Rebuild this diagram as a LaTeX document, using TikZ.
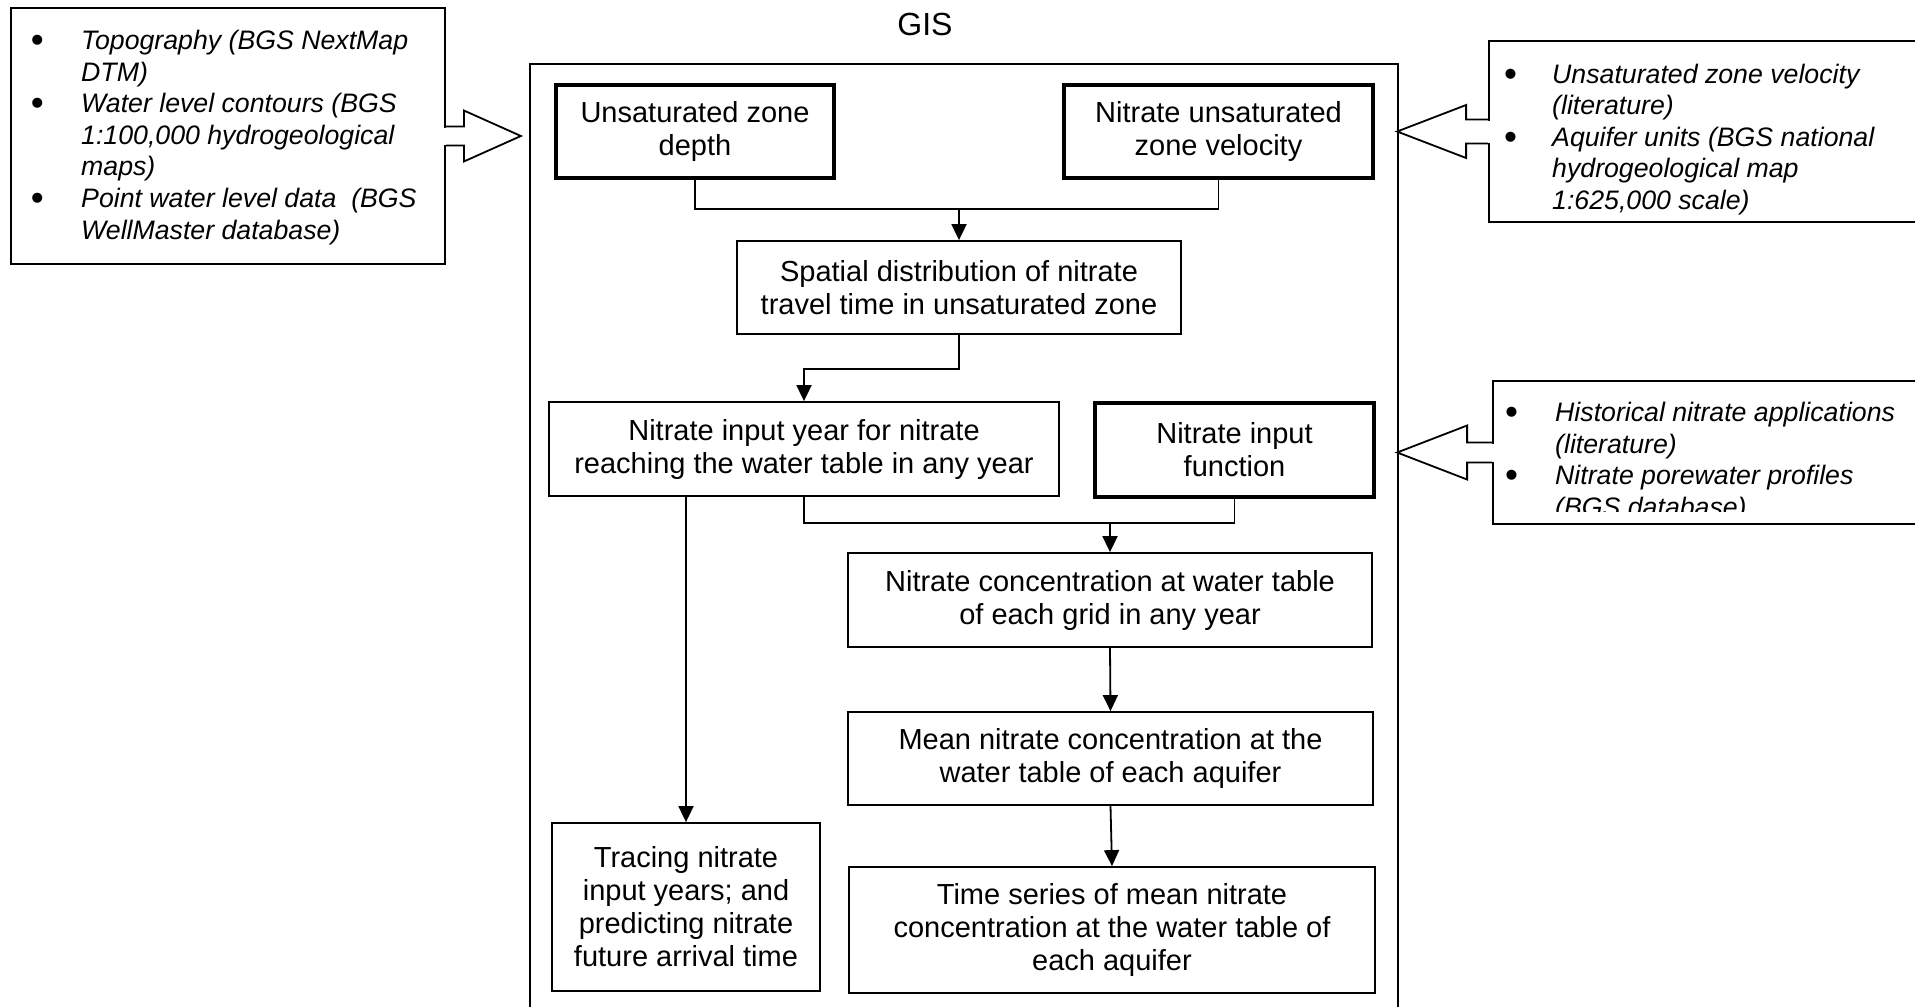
\documentclass[tikz,border=0pt]{standalone}
\usepackage{fontspec}
\setmainfont{Liberation Sans}
\usetikzlibrary{arrows.meta,calc}
\newcommand\blockarrow[6]{%
 \fill[white] ($(#1)+({-2*#2},{-#4+1})$) rectangle ($(#1)+({#2*#3},{#4-1})$);
 \fill[white] ($(#1)+(0,-#4)$) -- ++({#2*#3},0) -- ++(0,-#5) -- ++({#2*#6},{#4+#5}) -- ++({-#2*#6},{#4+#5}) -- ++(0,-#5) -- ++({-#2*#3},0) -- cycle;
 \draw[conn] ($(#1)+(0,-#4)$) -- ++({#2*#3},0) -- ++(0,-#5) -- ++({#2*#6},{#4+#5}) -- ++({-#2*#6},{#4+#5}) -- ++(0,-#5) -- ++({-#2*#3},0);
}
\newcommand\bul{\hspace*{-2.5pt}\raisebox{-3.2pt}{\fontsize{37}{31.6}\selectfont\upshape\textbullet}}
\begin{document}
\begin{tikzpicture}[x=1pt,y=-1pt,
  box/.style={draw, line width=1.8pt, align=center, inner sep=0pt, font=\fontsize{29}{33}\selectfont},
  heavybox/.style={box, line width=3.5pt},
  sidebox/.style={draw, line width=1.8pt, inner sep=0pt},
  sidetext/.style={anchor=base west, inner sep=0pt, font=\fontsize{26.7}{31.6}\selectfont\itshape},
  conn/.style={line width=1.8pt},
  arr/.style={conn, -{Triangle[length=16pt,width=15pt]}}]
\useasboundingbox (0,0) rectangle (1915,1007);
\clip (0,0) rectangle (1915,1007);
\fill[white] (0,0) rectangle (1915,1007);

% GIS frame
\node[box, minimum width=868pt, minimum height=961pt] (gis) at (964,544.5) {};
\node[inner sep=0pt, font=\fontsize{32}{36}\selectfont] (gistitle) at (925,24) {GIS};

% side boxes
\node[sidebox, minimum width=434pt, minimum height=256pt] (in1) at (228,136) {};
\node[sidebox, minimum width=446pt, minimum height=181pt] (in2) at (1712,131.5) {};
\node[sidebox, minimum width=442pt, minimum height=143pt] (in3) at (1714,452.5) {};

\node[sidetext] (t1) at (33.3,49.5) {\begin{tabular}[t]{@{}p{47.7pt}@{}l@{}}
\bul & Topography (BGS NextMap\\
 & DTM)\\
\bul & Water level contours (BGS\\
 & 1:100,000 hydrogeological\\
 & maps)\\
\bul & Point water level data~ (BGS\\
 & WellMaster database)
\end{tabular}};

\node[sidetext] (t2) at (1506.3,83) {\begin{tabular}[t]{@{}p{45.7pt}@{}l@{}}
\bul & Unsaturated zone velocity\\
 & (literature)\\
\bul & Aquifer units (BGS national\\
 & hydrogeological map\\
 & 1:625,000 scale)
\end{tabular}};

\begin{scope}
\clip (1480,381) rectangle (1915,511);
\node[sidetext] (t3) at (1507.3,421.5) {\begin{tabular}[t]{@{}p{47.7pt}@{}l@{}}
\bul & Historical nitrate applications\\
 & (literature)\\
\bul & Nitrate porewater profiles\\
 & (BGS database)
\end{tabular}};
\end{scope}

% block arrows
\blockarrow{in1.east}{1}{18}{9.5}{16}{57}
\blockarrow{in2.west}{-1}{22}{12}{14.5}{69}
\blockarrow{in3.west}{-1}{25}{10}{17}{70}

% flow boxes
\node[heavybox, minimum width=278pt, minimum height=93pt] (uzd) at (695,131.5) {Unsaturated zone\\depth};
\node[heavybox, minimum width=309pt, minimum height=93pt] (nuzv) at (1218.5,131.5) {Nitrate unsaturated\\zone velocity};
\node[box, minimum width=444pt, minimum height=93pt] (spatial) at (959,287.5) {Spatial distribution of nitrate\\travel time in unsaturated zone};
\node[box, minimum width=510pt, minimum height=94pt] (niy) at (804,449) {Nitrate input year for nitrate\\reaching the water table in any year};
\node[heavybox, minimum width=279pt, minimum height=94pt] (nif) at (1234.5,450) {Nitrate input\\function};
\node[box, minimum width=524pt, minimum height=94pt] (conc) at (1110,600) {Nitrate concentration at water table\\of each grid in any year};
\node[box, minimum width=525pt, minimum height=93pt] (mean) at (1110.5,758.5) {Mean nitrate concentration at the\\water table of each aquifer};
\node[box, minimum width=526pt, minimum height=126pt] (ts) at (1112,930) {Time series of mean nitrate\\concentration at the water table of\\each aquifer};
\node[box, minimum width=268pt, minimum height=168pt] (trace) at (686,907) {Tracing nitrate\\input years; and\\predicting nitrate\\future arrival time};

% connectors
\coordinate (j1) at ($(spatial.north)+(0,-31)$);
\draw[conn] (uzd.south) |- (j1) -| (nuzv.south);
\draw[arr] (j1) -- (spatial.north);
\coordinate (j2) at ($(spatial.south)+(0,34)$);
\draw[arr] (spatial.south) -- (j2) -| (niy.north);
\coordinate (j3) at ($(conc.north)+(0,-29)$);
\draw[conn] (niy.south) |- (j3) -| (nif.south);
\draw[arr] (j3) -- (conc.north);
\draw[arr] (conc.south) -- (mean.north);
\draw[arr] (mean.south) -- (ts.north);
\draw[arr] (niy.south -| trace.north) -- (trace.north);
\end{tikzpicture}
\end{document}
